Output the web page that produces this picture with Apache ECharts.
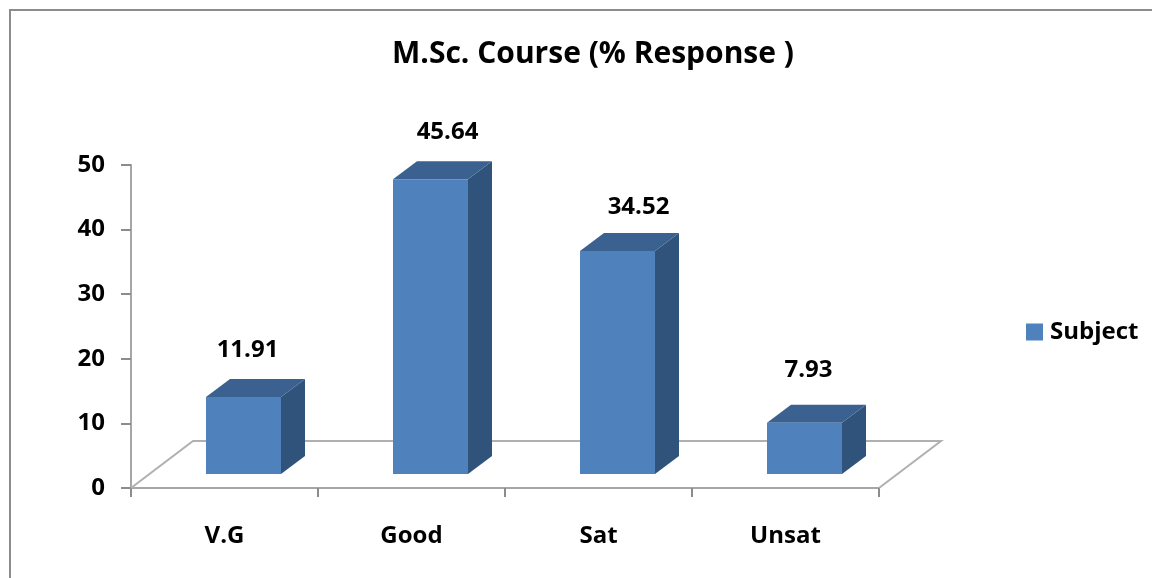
<!DOCTYPE html>
<html>
<head>
<meta charset="utf-8">
<style>html,body{margin:0;padding:0;background:#fff}#c{width:1152px;height:578px}</style>
<script src="https://cdn.jsdelivr.net/npm/echarts@6/dist/echarts.min.js"></script>
</head>
<body>
<div id="c"></div>
<script>
const categories = ['V.G', 'Good', 'Sat', 'Unsat'];
const values = [11.91, 45.64, 34.52, 7.93];
const seriesName = 'Subject';
const titleText = 'M.Sc. Course (% Response )';
const labelShiftX = [4, 17, 21, 4];
const labelShiftY = [-47, -47, -44, -53];
const FONT = '"Open Sans", Lato, sans-serif';

const chart = echarts.init(document.getElementById('c'), null, {renderer: 'canvas'});

function renderFloor(params, api) {
  const cs = params.coordSys;
  const x0 = cs.x, x1 = cs.x + cs.width, y0 = api.coord([0, 0])[1];
  const dx = 62, dy = -47;
  return {
    type: 'polyline', silent: true,
    shape: {points: [[x0, y0], [x0 + dx, y0 + dy], [x1 + dx, y0 + dy], [x1, y0]]},
    style: {fill: 'none', stroke: '#b0b0b0', lineWidth: 2}
  };
}

function renderBar(params, api) {
  const idx = api.value(0), val = api.value(1);
  const base = api.coord([idx, 0]), top = api.coord([idx, val]);
  const w = 75, ox = 19, oy = -14, dx = 24, dy = -18;
  const l = base[0] - w / 2 + ox, r = l + w;
  const yb = base[1] + oy, yt = top[1] + oy;
  return {
    type: 'group',
    children: [
      {type: 'polygon', silent: true, shape: {points: [[r, yt], [r + dx, yt + dy], [r + dx, yb + dy], [r, yb]]},
        style: {fill: '#30537c'}},
      {type: 'polygon', silent: true, shape: {points: [[l, yt], [l + dx, yt + dy], [r + dx, yt + dy], [r, yt]]},
        style: {fill: '#3a6190'}},
      {type: 'rect', silent: true, shape: {x: l, y: yt, width: w, height: yb - yt},
        style: {fill: '#4f81bd'}},
      {type: 'text', silent: true, style: {
        x: l + w / 2 + labelShiftX[idx], y: yt + labelShiftY[idx], text: val.toFixed(2),
        align: 'center', verticalAlign: 'middle',
        font: 'bold 24px ' + FONT, fill: '#000'}}
    ]
  };
}

chart.setOption({
  animation: false,
  backgroundColor: '#fff',
  title: {
    text: titleText, left: 588, top: 34, textAlign: 'center',
    textStyle: {fontFamily: FONT, fontWeight: 'bold', fontSize: 30, color: '#000'}
  },
  legend: {
    left: 1021, top: 315, itemWidth: 17, itemHeight: 17, itemGap: 0,
    data: [{name: seriesName, icon: 'rect', itemStyle: {color: '#4f81bd'}}],
    textStyle: {fontFamily: FONT, fontWeight: 'bold', fontSize: 24, color: '#000', padding: [0, 0, 0, 2]},
    selectedMode: false
  },
  grid: {left: 131, right: 273, top: 165, bottom: 90},
  xAxis: {
    type: 'category', data: categories, boundaryGap: true,
    axisLine: {lineStyle: {color: '#a6a6a6', width: 2}},
    axisTick: {show: true, length: 9, alignWithLabel: false, lineStyle: {color: '#8c8c8c', width: 2}},
    axisLabel: {margin: 36, fontFamily: FONT, fontWeight: 'bold', fontSize: 24, color: '#000'}
  },
  yAxis: {
    type: 'value', min: 0, max: 50, interval: 10,
    axisLine: {show: true, lineStyle: {color: '#a6a6a6', width: 2}},
    axisTick: {show: true, length: 10, lineStyle: {color: '#8c8c8c', width: 2}},
    splitLine: {show: false},
    axisLabel: {margin: 26, padding: [4, 0, 0, 0], fontFamily: FONT, fontWeight: 'bold', fontSize: 24, color: '#000'}
  },
  graphic: [{
    type: 'polyline', silent: true, z: -1,
    shape: {points: [[10, 578], [10, 10], [1152, 10]]},
    style: {fill: 'none', stroke: '#8c8c8c', lineWidth: 2}
  }],
  series: [
    {type: 'custom', name: '_floor', coordinateSystem: 'cartesian2d', data: [[0, 0]], renderItem: renderFloor, z: 1, silent: true, clip: false},
    {type: 'custom', name: seriesName, coordinateSystem: 'cartesian2d',
      encode: {x: 0, y: 1},
      data: values.map((v, i) => [i, v]),
      itemStyle: {color: '#4f81bd'},
      renderItem: renderBar, z: 2, clip: false}
  ]
});
</script>
</body>
</html>
